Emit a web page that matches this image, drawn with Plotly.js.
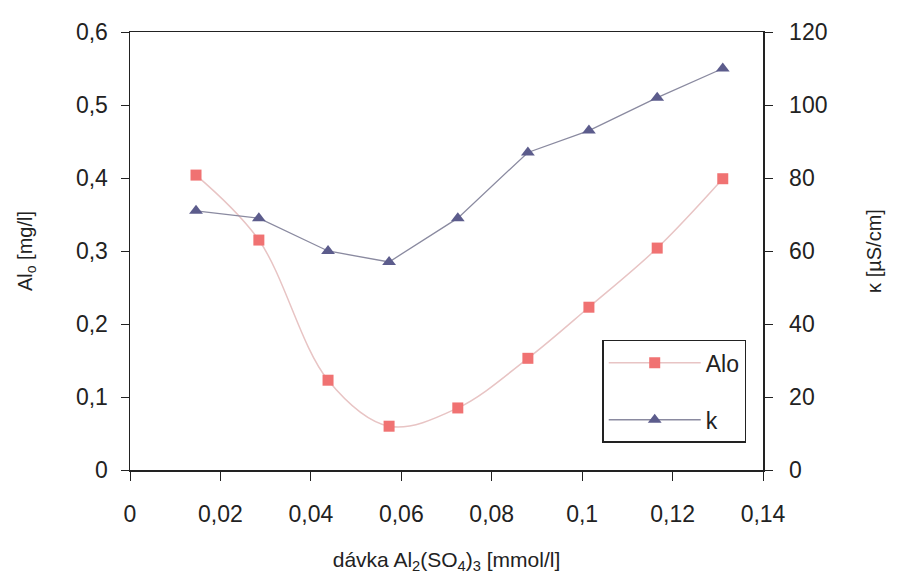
<!DOCTYPE html>
<html>
<head>
<meta charset="utf-8">
<script src="https://cdn.plot.ly/plotly-3.0.1.min.js"></script>
<style>html,body{margin:0;padding:0;background:#fff;}#chart{width:898px;height:580px;}</style>
</head>
<body>
<div id="chart"></div>
<script>
var davka = [0.0146, 0.0285, 0.0438, 0.0573, 0.0725, 0.0880, 0.1015, 0.1166, 0.1311];
var alo = [0.404, 0.315, 0.123, 0.060, 0.085, 0.153, 0.223, 0.304, 0.399];
var kappa = [71, 69, 60, 57, 69, 87, 93, 102, 110];
var seriesNames = ['Alo', 'k'];

var fontFam = 'Liberation Sans, Arial, sans-serif';

var traces = [
  {
    x: davka, y: alo, name: seriesNames[0], type: 'scatter', mode: 'lines+markers',
    legendgroup: 'a',
    line: {shape: 'spline', smoothing: 1, color: '#e8c4c4', width: 1.5},
    marker: {symbol: 'square', size: 11, color: '#f07272'}
  },
  {
    x: davka, y: kappa, name: seriesNames[1], type: 'scatter', mode: 'lines+markers',
    yaxis: 'y2', legendgroup: 'b',
    line: {color: '#8a8aa0', width: 1.3},
    marker: {symbol: 'triangle-up', size: 12, color: '#5c5c8c'}
  }
];

var layout = {
  width: 898, height: 580,
  margin: {l: 130, r: 135, t: 32, b: 110},
  paper_bgcolor: '#fff', plot_bgcolor: '#fff',
  separators: ', ',
  font: {family: fontFam, size: 23, color: '#222'},
  showlegend: true,
  legend: {
    x: 0.746, y: 0.297, xanchor: 'left', yanchor: 'top',
    bordercolor: '#222', borderwidth: 1.5, bgcolor: '#fff',
    font: {family: fontFam, size: 23, color: '#222'},
    tracegroupgap: 24, itemwidth: 92
  },
  xaxis: {
    range: [0, 0.14], dtick: 0.02, tick0: 0,
    showline: true, linecolor: '#222', linewidth: 1.5, mirror: true,
    ticks: 'outside', ticklen: 9, tickcolor: '#222',
    showgrid: false, zeroline: false,
    tickfont: {size: 23}, ticklabelstandoff: 14,
    title: {text: 'dávka Al<sub>2</sub>(SO<sub>4</sub>)<sub>3</sub> [mmol/l]', font: {size: 21}, standoff: 26}
  },
  yaxis: {
    range: [0, 0.6], dtick: 0.1, tick0: 0,
    showline: true, linecolor: '#222', linewidth: 1.5,
    ticks: 'outside', ticklen: 8, tickcolor: '#222',
    showgrid: false, zeroline: false,
    tickfont: {size: 23}, ticklabelstandoff: 8,
    title: {text: 'Al<sub>o</sub> [mg/l]', font: {size: 20}, standoff: 38}
  },
  yaxis2: {
    range: [0, 120], dtick: 20, tick0: 0,
    overlaying: 'y', side: 'right',
    showline: true, linecolor: '#222', linewidth: 1.5,
    ticks: 'outside', ticklen: 8, tickcolor: '#222',
    showgrid: false, zeroline: false,
    tickfont: {size: 23}, ticklabelstandoff: 12,
    title: {text: 'κ [µS/cm]', font: {size: 20}, standoff: 40}
  }
};

Plotly.newPlot('chart', traces, layout, {displayModeBar: false, staticPlot: true});
</script>
</body>
</html>
